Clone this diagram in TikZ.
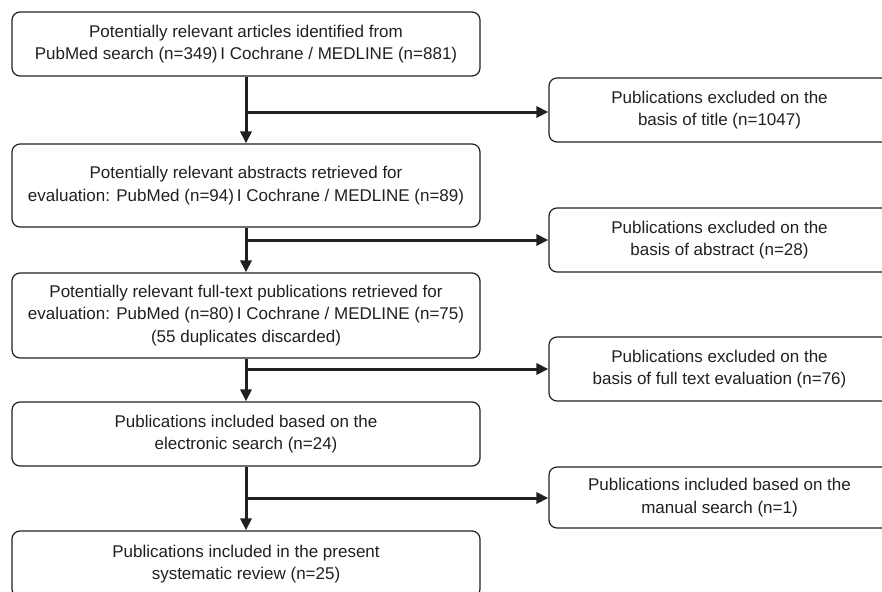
\documentclass[tikz,border=0pt]{standalone}
\usepackage{fontspec}
\setmainfont{Liberation Sans}
\usetikzlibrary{arrows.meta}
\definecolor{ink}{HTML}{231F20}
\begin{document}
\begin{tikzpicture}[x=1pt,y=-1pt]
\tikzset{
  mainbox/.style={draw=ink, line width=1.2pt, rounded corners=8pt, minimum width=468pt, align=center,
    font=\fontsize{17}{22.5}\selectfont, inner sep=0pt, text=ink},
  sidebox/.style={mainbox, minimum width=341pt, minimum height=64pt},
  flow/.style={draw=ink, line width=3pt, -{Triangle[length=12pt,width=11pt]}},
}
\useasboundingbox (0,0) rectangle (882,591);
% main column
\node[mainbox, minimum height=64pt] (b1) at (246,44) {Potentially relevant articles identified from\\PubMed search (n=349)\,I Cochrane / MEDLINE (n=881)};
\node[mainbox, minimum height=83pt] (b2) at (246,185.5) {Potentially relevant abstracts retrieved for\\evaluation: PubMed (n=94)\,I Cochrane / MEDLINE (n=89)};
\node[mainbox, minimum height=85pt] (b3) at (246,315.5) {Potentially relevant full-text publications retrieved for\\evaluation: PubMed (n=80)\,I Cochrane / MEDLINE (n=75)\\(55 duplicates discarded)};
\node[mainbox, minimum height=64pt] (b4) at (246,434) {Publications included based on the\\electronic search (n=24)};
\node[mainbox, minimum height=66pt] (b5) at (246,564) {Publications included in the present\\systematic review (n=25)};
% side column
\node[sidebox] (r1) at (719.5,110) {Publications excluded on the\\basis of title (n=1047)};
\node[sidebox] (r2) at (719.5,240) {Publications excluded on the\\basis of abstract (n=28)};
\node[sidebox] (r3) at (719.5,369) {Publications excluded on the\\basis of full text evaluation (n=76)};
\node[sidebox, minimum height=61pt] (r4) at (719.5,497.5) {Publications included based on the\\manual search (n=1)};
% junctions
\coordinate (j1) at (246,112);
\coordinate (j2) at (246,240);
\coordinate (j3) at (246,369);
\coordinate (j4) at (246,498);
% connectors
\draw[flow] (b1) -- (b2);
\draw[flow] (b2) -- (b3);
\draw[flow] (b3) -- (b4);
\draw[flow] (b4) -- (b5);
\draw[flow] (j1) -- (j1 -| r1.west);
\draw[flow] (j2) -- (j2 -| r2.west);
\draw[flow] (j3) -- (j3 -| r3.west);
\draw[flow] (j4) -- (j4 -| r4.west);
\end{tikzpicture}
\end{document}
